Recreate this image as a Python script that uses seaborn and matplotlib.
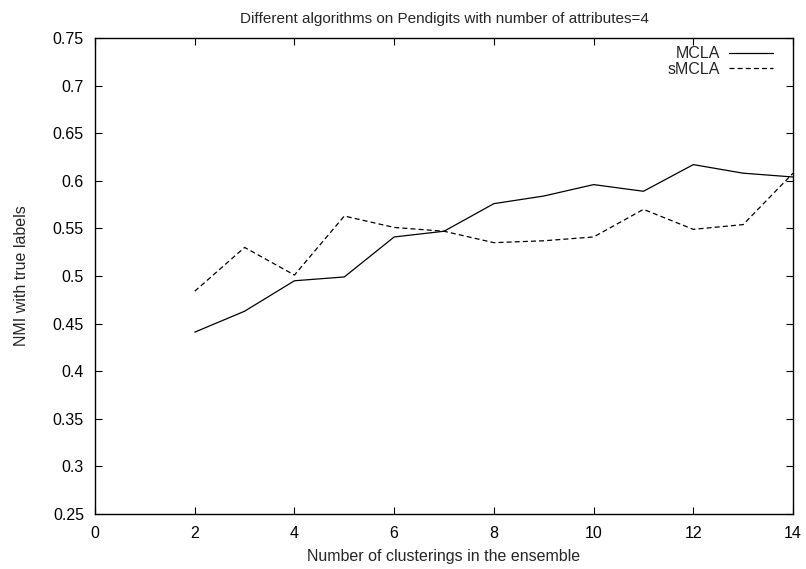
import matplotlib
matplotlib.use("Agg")
import matplotlib.pyplot as plt
import seaborn as sns
import pandas as pd

clusterings = [2, 3, 4, 5, 6, 7, 8, 9, 10, 11, 12, 13, 14]
mcla = [0.441, 0.463, 0.495, 0.499, 0.541, 0.547, 0.576, 0.584, 0.596, 0.589, 0.617, 0.608, 0.604]
smcla = [0.484, 0.530, 0.501, 0.563, 0.551, 0.547, 0.535, 0.537, 0.541, 0.570, 0.549, 0.554, 0.608]
series_names = ["MCLA", "sMCLA"]
x_ticks = [0, 2, 4, 6, 8, 10, 12, 14]
y_ticks = [0.25, 0.3, 0.35, 0.4, 0.45, 0.5, 0.55, 0.6, 0.65, 0.7, 0.75]

df = pd.DataFrame({
    "x": clusterings * 2,
    "y": mcla + smcla,
    "series": [series_names[0]] * len(clusterings) + [series_names[1]] * len(clusterings),
})

sns.set_style("ticks")
plt.rcParams["font.family"] = ["Liberation Sans", "DejaVu Sans"]
plt.rcParams["font.size"] = 11.5

fig = plt.figure(figsize=(8.06, 5.69), dpi=100)
ax = fig.add_axes([0.1179, 0.0967, 0.9839 - 0.1179, 0.9332 - 0.0967])

sns.lineplot(data=df, x="x", y="y", hue="series", style="series",
             palette=["black", "black"], dashes={"MCLA": "", "sMCLA": (4, 2.5)},
             linewidth=0.9, ax=ax, legend=True)

ax.set_xlim(0, 14)
ax.set_ylim(0.25, 0.75)
ax.set_xticks(x_ticks)
ax.set_yticks(y_ticks)
ax.set_yticklabels([f"{v:g}" for v in y_ticks])
ax.tick_params(direction="in", top=True, right=True, length=5, width=0.8,
               labelsize=11.5, colors="black")
ax.tick_params(axis="y", pad=8)
ax.tick_params(axis="x", pad=9)
for s in ax.spines.values():
    s.set_visible(True)
    s.set_linewidth(1.0)
    s.set_color("black")

ax.set_xlabel("Number of clusterings in the ensemble", fontsize=11.5, labelpad=5.5)
ax.set_ylabel("NMI with true labels", fontsize=11.5, labelpad=17)
ax.set_title("Different algorithms on Pendigits with number of attributes=4", fontsize=11, pad=11)

leg = ax.legend(loc="upper right", frameon=False, markerfirst=False, handlelength=2.75,
                fontsize=11.5, labelspacing=0.05, borderaxespad=0, borderpad=0,
                handletextpad=0.55, bbox_to_anchor=(0.9713, 0.983))
for t in leg.get_texts():
    t.set_ha("right")

fig.savefig("out.png", dpi=100)
